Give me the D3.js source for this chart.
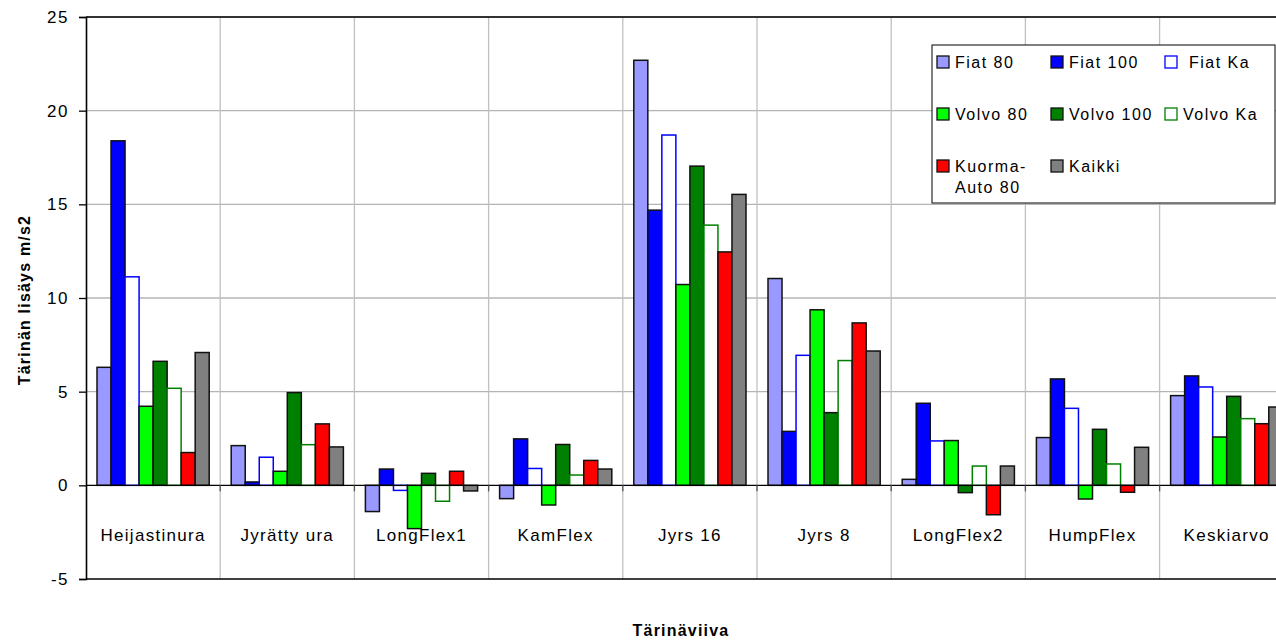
<!DOCTYPE html>
<html><head><meta charset="utf-8">
<script src="https://cdn.jsdelivr.net/npm/d3@7"></script>
<style>
body{margin:0;background:#fff;}
text{font-family:"Liberation Sans",Arial,sans-serif;fill:#000;}
</style></head><body>
<svg id="c" width="1276" height="642"></svg>
<script>
const categories = ["Heijastinura","Jyrätty ura","LongFlex1","KamFlex","Jyrs 16","Jyrs 8","LongFlex2","HumpFlex","Keskiarvo"];
const seriesNames = ["Fiat 80","Fiat 100","Fiat Ka","Volvo 80","Volvo 100","Volvo Ka","Kuorma-Auto 80","Kaikki"];
const fiat80   = [6.3, 2.12, -1.4, -0.71, 22.69, 11.04, 0.32, 2.55, 4.79];
const fiat100  = [18.39, 0.18, 0.87, 2.48, 14.69, 2.88, 4.38, 5.68, 5.84];
const fiatKa   = [11.13, 1.5, -0.27, 0.9, 18.7, 6.94, 2.37, 4.11, 5.25];
const volvo80  = [4.22, 0.75, -2.31, -1.05, 10.72, 9.37, 2.39, -0.73, 2.58];
const volvo100 = [6.62, 4.95, 0.64, 2.18, 17.04, 3.88, -0.39, 2.99, 4.75];
const volvoKa  = [5.18, 2.17, -0.85, 0.55, 13.89, 6.66, 1.03, 1.14, 3.56];
const kuorma80 = [1.75, 3.28, 0.75, 1.33, 12.46, 8.67, -1.57, -0.37, 3.29];
const kaikki   = [7.09, 2.05, -0.3, 0.87, 15.53, 7.17, 1.03, 2.03, 4.18];
const yTicks = [-5, 0, 5, 10, 15, 20, 25];

(function () {
const seriesValues = [fiat80, fiat100, fiatKa, volvo80, volvo100, volvoKa, kuorma80, kaikki];
const fills   = ["#9999ff","#0000ff","#ffffff","#00ff00","#008000","#ffffff","#ff0000","#808080"];
const strokes = ["#111","#111","#0000ff","#111","#111","#008000","#111","#111"];

const svg = d3.select("#c");
const pL = 86, pT = 17, pB = 579, groupW = 134.2;
const pR = pL + groupW * categories.length;

const y = d3.scaleLinear().domain([-5, 25]).range([pB, pT]);
const x0 = d3.scaleBand().domain(categories).range([pL, pR]).paddingInner(0).paddingOuter(0);
const x1 = d3.scaleBand().domain(seriesNames).range([11, groupW - 11]).padding(0);

svg.append("g").selectAll("line").data(yTicks.filter(t => t !== 0 && t !== -5))
  .join("line").attr("x1", pL).attr("x2", pR)
  .attr("y1", d => y(d)).attr("y2", d => y(d))
  .attr("stroke", "#b4b4b4").attr("stroke-width", 1.3);
svg.append("g").selectAll("line").data(categories.slice(1))
  .join("line").attr("x1", d => x0(d)).attr("x2", d => x0(d))
  .attr("y1", pT).attr("y2", pB)
  .attr("stroke", "#c0c0c0").attr("stroke-width", 1.3);

svg.append("line").attr("x1", pL).attr("x2", pR).attr("y1", pT).attr("y2", pT)
  .attr("stroke", "#000").attr("stroke-width", 1.4);
svg.append("line").attr("x1", pL).attr("x2", pR).attr("y1", pB).attr("y2", pB)
  .attr("stroke", "#000").attr("stroke-width", 1.4);

const groups = svg.append("g").selectAll("g").data(categories).join("g")
  .attr("transform", d => `translate(${x0(d)},0)`);
groups.selectAll("rect").data((c, ci) => seriesNames.map((s, si) => ({s, si, v: seriesValues[si][ci]})))
  .join("rect")
  .attr("x", d => x1(d.s)).attr("width", x1.bandwidth())
  .attr("y", d => Math.min(y(d.v), y(0)))
  .attr("height", d => Math.abs(y(d.v) - y(0)))
  .attr("fill", d => fills[d.si]).attr("stroke", d => strokes[d.si]).attr("stroke-width", 1.5);

svg.append("line").attr("x1", pL).attr("x2", pR).attr("y1", y(0)).attr("y2", y(0))
  .attr("stroke", "#000").attr("stroke-width", 1.4);
svg.append("g").selectAll("line").data(categories.slice(1))
  .join("line").attr("x1", d => x0(d)).attr("x2", d => x0(d))
  .attr("y1", y(0)).attr("y2", y(0) + 6).attr("stroke", "#555").attr("stroke-width", 1.3);

const yAxis = svg.append("g").attr("transform", `translate(${pL},0)`)
  .call(d3.axisLeft(y).tickValues(yTicks).tickFormat(d => String(d)).tickSize(7).tickPadding(10));
yAxis.select(".domain").attr("stroke", "#000").attr("stroke-width", 1.6);
yAxis.selectAll(".tick line").attr("stroke", "#000").attr("stroke-width", 1.3);
yAxis.selectAll(".tick text").style("font-size", "17px").style("letter-spacing", "1.5px")
  .style("font-family", "'Liberation Sans',Arial,sans-serif").attr("fill", "#000");

svg.append("g").selectAll("text").data(categories).join("text")
  .attr("x", d => x0(d) + groupW / 2).attr("y", 541)
  .attr("text-anchor", "middle").style("font-size", "17px").style("letter-spacing", "1.3px")
  .text(d => d);

svg.append("text").attr("transform", "translate(30,300) rotate(-90)")
  .attr("text-anchor", "middle").style("font-size", "16px").style("font-weight", "bold")
  .style("letter-spacing", "1.2px").text("Tärinän lisäys m/s2");
svg.append("text").attr("x", 681).attr("y", 636)
  .attr("text-anchor", "middle").style("font-size", "16px").style("font-weight", "bold")
  .style("letter-spacing", "1.2px").text("Tärinäviiva");

const lg = svg.append("g");
lg.append("rect").attr("x", 932).attr("y", 45).attr("width", 343).attr("height", 158)
  .attr("fill", "#fff").attr("stroke", "#000").attr("stroke-width", 1);
const cols = [937, 1051, 1165], rows = [62, 114, 166];
seriesNames.forEach((s, i) => {
  const cx = cols[i % 3], cy = rows[Math.floor(i / 3)];
  lg.append("rect").attr("x", cx).attr("y", cy - 6).attr("width", 12).attr("height", 12)
    .attr("fill", fills[i]).attr("stroke", strokes[i]).attr("stroke-width", 1.3);
  const parts = s === "Kuorma-Auto 80" ? ["Kuorma-", "Auto 80"] : [s];
  const tx = cx + 18 + (s === "Fiat Ka" ? 6 : 0);
  const t = lg.append("text").attr("x", tx).attr("y", cy + 6)
    .style("font-size", "16px").style("letter-spacing", "1.5px");
  parts.forEach((p, j) => t.append("tspan").attr("x", tx).attr("dy", j === 0 ? 0 : 21).text(p));
});
})();
</script>
</body></html>
